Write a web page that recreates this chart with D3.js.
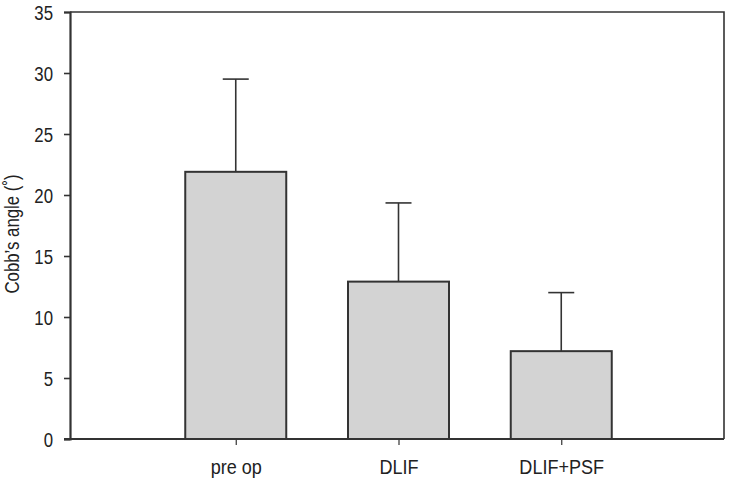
<!DOCTYPE html>
<html>
<head>
<meta charset="utf-8">
<script src="https://cdn.jsdelivr.net/npm/d3@7"></script>
<style>
  body { margin: 0; background: #fff; }
  text { font-family: "Liberation Sans Narrow", "Liberation Sans", Arial, sans-serif; fill: #222; }
</style>
</head>
<body>
<div id="chart"></div>
<script>
const groups = ['pre op', 'DLIF', 'DLIF+PSF'];
const means = [21.9, 12.9, 7.2];
const sds = [7.6, 6.45, 4.8];
const yTicks = [0, 5, 10, 15, 20, 25, 30, 35];

const width = 729, height = 479;
const margin = { top: 12, right: 5, bottom: 40, left: 70 };
const innerW = width - margin.left - margin.right;
const innerH = height - margin.top - margin.bottom;

const svg = d3.select('#chart')
  .append('svg')
  .attr('width', width)
  .attr('height', height);

const g = svg.append('g')
  .attr('transform', `translate(${margin.left},${margin.top})`);

// bars sit at positions 1..3 on a 0..4 axis
const x = d3.scaleLinear().domain([0, 4]).range([3, innerW]);
const y = d3.scaleLinear().domain([0, 35]).range([innerH, 0]);
const barW = 101;
const capW = 26;
const ink = '#333';

// frame (top and right)
g.append('path')
  .attr('d', `M0,0H${innerW}V${innerH}`)
  .attr('fill', 'none')
  .attr('stroke', ink)
  .attr('stroke-width', 1.6);

// error bars (behind bars)
const err = g.selectAll('.err').data(groups).enter().append('g');
err.append('line')
  .attr('x1', (d, i) => x(i + 1)).attr('x2', (d, i) => x(i + 1))
  .attr('y1', (d, i) => y(means[i])).attr('y2', (d, i) => y(means[i] + sds[i]))
  .attr('stroke', ink).attr('stroke-width', 1.6);
err.append('line')
  .attr('x1', (d, i) => x(i + 1) - capW / 2).attr('x2', (d, i) => x(i + 1) + capW / 2)
  .attr('y1', (d, i) => y(means[i] + sds[i])).attr('y2', (d, i) => y(means[i] + sds[i]))
  .attr('stroke', ink).attr('stroke-width', 1.6);

// bars
g.selectAll('.bar').data(groups).enter().append('rect')
  .attr('x', (d, i) => x(i + 1) - barW / 2)
  .attr('y', (d, i) => y(means[i]))
  .attr('width', barW)
  .attr('height', (d, i) => innerH - y(means[i]))
  .attr('fill', '#d3d3d3')
  .attr('stroke', ink)
  .attr('stroke-width', 2);

// y axis
const yAxis = g.append('g')
  .call(d3.axisLeft(y).tickValues(yTicks).tickSize(6).tickPadding(10).tickSizeOuter(6));
yAxis.select('.domain').attr('stroke', ink).attr('stroke-width', 2.2);
yAxis.selectAll('.tick line').attr('stroke', ink).attr('stroke-width', 1.6);
// condensed look: squeeze the glyphs horizontally
yAxis.selectAll('text')
  .style('font-size', '21px').attr('fill', '#222')
  .attr('x', null).attr('dy', '0.35em')
  .attr('transform', 'translate(-17,0) scale(0.8,1)');

// x axis
const xAxis = g.append('g')
  .attr('transform', `translate(0,${innerH})`)
  .call(d3.axisBottom(x).tickValues([1, 2, 3]).tickFormat(d => groups[d - 1]).tickSize(6).tickSizeOuter(0).tickPadding(10));
xAxis.select('.domain').attr('stroke', ink).attr('stroke-width', 2.2)
  .attr('d', `M-6,0H${innerW}`);
xAxis.selectAll('.tick line').attr('stroke', ink).attr('stroke-width', 1.2);
xAxis.selectAll('text')
  .style('font-size', '21px').attr('fill', '#222')
  .attr('y', null).attr('dy', null)
  .attr('transform', 'translate(0,35) scale(0.86,1)');

// y label
svg.append('text')
  .attr('transform', 'translate(19,234) rotate(-90) scale(0.8,1)')
  .attr('text-anchor', 'middle')
  .style('font-size', '21px')
  .text('Cobb\u2019s angle (\u02DA)');
</script>
</body>
</html>
